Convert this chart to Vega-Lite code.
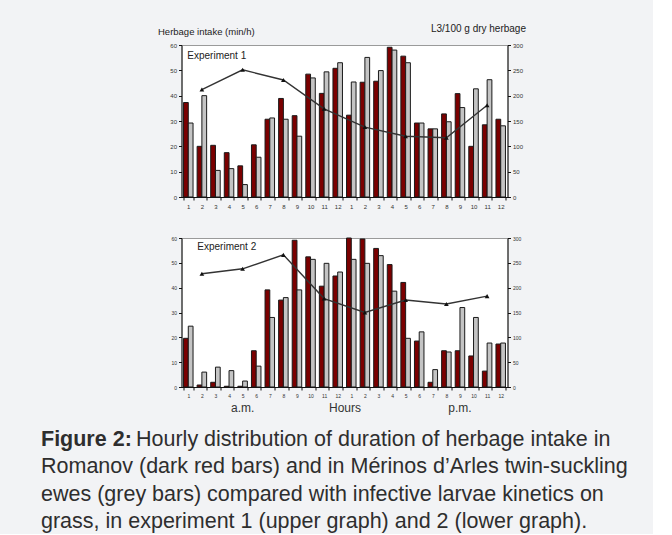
{
  "$schema": "https://vega.github.io/schema/vega-lite/v6.json",
  "background": "#f2f3f5",
  "padding": {"left": 41, "top": 22, "right": 5, "bottom": 0},
  "config": {
    "font": "Liberation Sans",
    "view": {"stroke": null},
    "axis": {"labelFontSize": 6, "labelColor": "#333", "domainColor": "#111", "tickColor": "#111", "tickSize": 3, "grid": false, "labelPadding": 2, "labelOverlap": false, "titleFontWeight": "normal", "titleColor": "#222"}
  },
  "datasets": {
    "intake": [
      {"exp": 1, "slot": 1, "breed": "Romanov", "min": 37.3}, {"exp": 1, "slot": 1, "breed": "Mérinos d’Arles", "min": 29.2},
      {"exp": 1, "slot": 2, "breed": "Romanov", "min": 20.0}, {"exp": 1, "slot": 2, "breed": "Mérinos d’Arles", "min": 40.0},
      {"exp": 1, "slot": 3, "breed": "Romanov", "min": 20.4}, {"exp": 1, "slot": 3, "breed": "Mérinos d’Arles", "min": 10.5},
      {"exp": 1, "slot": 4, "breed": "Romanov", "min": 17.5}, {"exp": 1, "slot": 4, "breed": "Mérinos d’Arles", "min": 11.2},
      {"exp": 1, "slot": 5, "breed": "Romanov", "min": 12.3}, {"exp": 1, "slot": 5, "breed": "Mérinos d’Arles", "min": 4.9},
      {"exp": 1, "slot": 6, "breed": "Romanov", "min": 20.6}, {"exp": 1, "slot": 6, "breed": "Mérinos d’Arles", "min": 15.7},
      {"exp": 1, "slot": 7, "breed": "Romanov", "min": 30.7}, {"exp": 1, "slot": 7, "breed": "Mérinos d’Arles", "min": 31.2},
      {"exp": 1, "slot": 8, "breed": "Romanov", "min": 38.9}, {"exp": 1, "slot": 8, "breed": "Mérinos d’Arles", "min": 30.7},
      {"exp": 1, "slot": 9, "breed": "Romanov", "min": 32.1}, {"exp": 1, "slot": 9, "breed": "Mérinos d’Arles", "min": 24.0},
      {"exp": 1, "slot": 10, "breed": "Romanov", "min": 48.5}, {"exp": 1, "slot": 10, "breed": "Mérinos d’Arles", "min": 47.0},
      {"exp": 1, "slot": 11, "breed": "Romanov", "min": 40.9}, {"exp": 1, "slot": 11, "breed": "Mérinos d’Arles", "min": 49.4},
      {"exp": 1, "slot": 12, "breed": "Romanov", "min": 50.8}, {"exp": 1, "slot": 12, "breed": "Mérinos d’Arles", "min": 53.0},
      {"exp": 1, "slot": 13, "breed": "Romanov", "min": 32.3}, {"exp": 1, "slot": 13, "breed": "Mérinos d’Arles", "min": 45.4},
      {"exp": 1, "slot": 14, "breed": "Romanov", "min": 45.3}, {"exp": 1, "slot": 14, "breed": "Mérinos d’Arles", "min": 55.1},
      {"exp": 1, "slot": 15, "breed": "Romanov", "min": 45.7}, {"exp": 1, "slot": 15, "breed": "Mérinos d’Arles", "min": 49.9},
      {"exp": 1, "slot": 16, "breed": "Romanov", "min": 59.1}, {"exp": 1, "slot": 16, "breed": "Mérinos d’Arles", "min": 58.0},
      {"exp": 1, "slot": 17, "breed": "Romanov", "min": 55.6}, {"exp": 1, "slot": 17, "breed": "Mérinos d’Arles", "min": 53.0},
      {"exp": 1, "slot": 18, "breed": "Romanov", "min": 29.2}, {"exp": 1, "slot": 18, "breed": "Mérinos d’Arles", "min": 29.2},
      {"exp": 1, "slot": 19, "breed": "Romanov", "min": 26.9}, {"exp": 1, "slot": 19, "breed": "Mérinos d’Arles", "min": 26.9},
      {"exp": 1, "slot": 20, "breed": "Romanov", "min": 32.8}, {"exp": 1, "slot": 20, "breed": "Mérinos d’Arles", "min": 29.7},
      {"exp": 1, "slot": 21, "breed": "Romanov", "min": 40.8}, {"exp": 1, "slot": 21, "breed": "Mérinos d’Arles", "min": 35.3},
      {"exp": 1, "slot": 22, "breed": "Romanov", "min": 20.0}, {"exp": 1, "slot": 22, "breed": "Mérinos d’Arles", "min": 42.7},
      {"exp": 1, "slot": 23, "breed": "Romanov", "min": 28.5}, {"exp": 1, "slot": 23, "breed": "Mérinos d’Arles", "min": 46.3},
      {"exp": 1, "slot": 24, "breed": "Romanov", "min": 30.7}, {"exp": 1, "slot": 24, "breed": "Mérinos d’Arles", "min": 28.1},
      {"exp": 2, "slot": 1, "breed": "Romanov", "min": 19.6}, {"exp": 2, "slot": 1, "breed": "Mérinos d’Arles", "min": 24.5},
      {"exp": 2, "slot": 2, "breed": "Romanov", "min": 0.8}, {"exp": 2, "slot": 2, "breed": "Mérinos d’Arles", "min": 6.0},
      {"exp": 2, "slot": 3, "breed": "Romanov", "min": 1.9}, {"exp": 2, "slot": 3, "breed": "Mérinos d’Arles", "min": 8.0},
      {"exp": 2, "slot": 4, "breed": "Romanov", "min": 0.3}, {"exp": 2, "slot": 4, "breed": "Mérinos d’Arles", "min": 6.6},
      {"exp": 2, "slot": 5, "breed": "Romanov", "min": 0.3}, {"exp": 2, "slot": 5, "breed": "Mérinos d’Arles", "min": 2.4},
      {"exp": 2, "slot": 6, "breed": "Romanov", "min": 14.6}, {"exp": 2, "slot": 6, "breed": "Mérinos d’Arles", "min": 8.4},
      {"exp": 2, "slot": 7, "breed": "Romanov", "min": 39.1}, {"exp": 2, "slot": 7, "breed": "Mérinos d’Arles", "min": 28.0},
      {"exp": 2, "slot": 8, "breed": "Romanov", "min": 35.0}, {"exp": 2, "slot": 8, "breed": "Mérinos d’Arles", "min": 36.0},
      {"exp": 2, "slot": 9, "breed": "Romanov", "min": 59.1}, {"exp": 2, "slot": 9, "breed": "Mérinos d’Arles", "min": 39.1},
      {"exp": 2, "slot": 10, "breed": "Romanov", "min": 52.4}, {"exp": 2, "slot": 10, "breed": "Mérinos d’Arles", "min": 51.4},
      {"exp": 2, "slot": 11, "breed": "Romanov", "min": 40.6}, {"exp": 2, "slot": 11, "breed": "Mérinos d’Arles", "min": 49.8},
      {"exp": 2, "slot": 12, "breed": "Romanov", "min": 44.7}, {"exp": 2, "slot": 12, "breed": "Mérinos d’Arles", "min": 46.3},
      {"exp": 2, "slot": 13, "breed": "Romanov", "min": 60.0}, {"exp": 2, "slot": 13, "breed": "Mérinos d’Arles", "min": 51.4},
      {"exp": 2, "slot": 14, "breed": "Romanov", "min": 59.6}, {"exp": 2, "slot": 14, "breed": "Mérinos d’Arles", "min": 49.8},
      {"exp": 2, "slot": 15, "breed": "Romanov", "min": 55.8}, {"exp": 2, "slot": 15, "breed": "Mérinos d’Arles", "min": 52.9},
      {"exp": 2, "slot": 16, "breed": "Romanov", "min": 49.3}, {"exp": 2, "slot": 16, "breed": "Mérinos d’Arles", "min": 38.6},
      {"exp": 2, "slot": 17, "breed": "Romanov", "min": 42.1}, {"exp": 2, "slot": 17, "breed": "Mérinos d’Arles", "min": 19.6},
      {"exp": 2, "slot": 18, "breed": "Romanov", "min": 18.5}, {"exp": 2, "slot": 18, "breed": "Mérinos d’Arles", "min": 22.2},
      {"exp": 2, "slot": 19, "breed": "Romanov", "min": 1.9}, {"exp": 2, "slot": 19, "breed": "Mérinos d’Arles", "min": 7.0},
      {"exp": 2, "slot": 20, "breed": "Romanov", "min": 14.6}, {"exp": 2, "slot": 20, "breed": "Mérinos d’Arles", "min": 14.1},
      {"exp": 2, "slot": 21, "breed": "Romanov", "min": 14.6}, {"exp": 2, "slot": 21, "breed": "Mérinos d’Arles", "min": 32.0},
      {"exp": 2, "slot": 22, "breed": "Romanov", "min": 12.5}, {"exp": 2, "slot": 22, "breed": "Mérinos d’Arles", "min": 28.0},
      {"exp": 2, "slot": 23, "breed": "Romanov", "min": 6.4}, {"exp": 2, "slot": 23, "breed": "Mérinos d’Arles", "min": 17.7},
      {"exp": 2, "slot": 24, "breed": "Romanov", "min": 17.3}, {"exp": 2, "slot": 24, "breed": "Mérinos d’Arles", "min": 17.7}
    ],
    "larvae": [
      {"exp": 1, "slot": 2, "L3": 212}, {"exp": 1, "slot": 5, "L3": 251}, {"exp": 1, "slot": 8, "L3": 231},
      {"exp": 1, "slot": 11, "L3": 174}, {"exp": 1, "slot": 14, "L3": 138}, {"exp": 1, "slot": 17, "L3": 120},
      {"exp": 1, "slot": 20, "L3": 117}, {"exp": 1, "slot": 23, "L3": 181},
      {"exp": 2, "slot": 2, "L3": 228}, {"exp": 2, "slot": 5, "L3": 238}, {"exp": 2, "slot": 8, "L3": 266},
      {"exp": 2, "slot": 11, "L3": 178}, {"exp": 2, "slot": 14, "L3": 150}, {"exp": 2, "slot": 17, "L3": 175},
      {"exp": 2, "slot": 20, "L3": 167}, {"exp": 2, "slot": 23, "L3": 183}
    ],
    "caption": [
      {"line": 1, "part": "label", "text": "Figure 2:"},
      {"line": 1, "part": "first", "text": "Hourly distribution of duration of herbage intake in"},
      {"line": 2, "part": "body", "text": "Romanov (dark red bars) and in Mérinos d’Arles twin-suckling"},
      {"line": 3, "part": "body", "text": "ewes (grey bars) compared with infective larvae kinetics on"},
      {"line": 4, "part": "body", "text": "grass, in experiment 1 (upper graph) and 2 (lower graph)."}
    ]
  },
  "bounds": "flush",
  "center": true,
  "spacing": 41,
  "vconcat": [
    {
      "width": 326,
      "height": 152,
      "view": {"fill": "white", "stroke": "#9a9a9a"},
      "resolve": {"scale": {"y": "independent"}},
      "layer": [
        {
          "layer": [
            {
              "data": {"name": "intake"},
              "transform": [{"filter": "datum.exp == 1"}],
              "mark": {"type": "bar", "stroke": "#1a1a1a", "strokeWidth": 1},
              "encoding": {
                "x": {"field": "slot", "type": "ordinal",
                      "scale": {"domain": [1,2,3,4,5,6,7,8,9,10,11,12,13,14,15,16,17,18,19,20,21,22,23,24], "paddingInner": 0.3, "paddingOuter": 0.15},
                      "axis": {"title": null, "labelAngle": 0, "labelExpr": "datum.value > 12 ? datum.value - 12 : datum.value", "tickBand": "extent", "labelPadding": 3}},
                "xOffset": {"field": "breed", "type": "nominal", "sort": ["Romanov", "Mérinos d’Arles"]},
                "y": {"field": "min", "type": "quantitative", "scale": {"domain": [0, 60]},
                      "axis": {"values": [0,10,20,30,40,50,60], "title": "Herbage intake (min/h)", "titleAngle": 0, "titleAlign": "left", "titleBaseline": "middle", "titleX": -24, "titleY": -14, "titleFontSize": 9.5}},
                "color": {"field": "breed", "type": "nominal", "scale": {"domain": ["Romanov", "Mérinos d’Arles"], "range": ["#7b0000", "#c4c4c4"]}, "legend": null}
              }
            },
            {
              "data": {"values": [{"label": "Experiment 1"}]},
              "mark": {"type": "text", "align": "left", "baseline": "middle", "fontSize": 10, "color": "#222", "dx": -1},
              "encoding": {
                "x": {"datum": 1, "type": "ordinal"},
                "y": {"datum": 55.7, "type": "quantitative",
                      "axis": {"values": [0,10,20,30,40,50,60], "title": "Herbage intake (min/h)", "titleAngle": 0, "titleAlign": "left", "titleBaseline": "middle", "titleX": -24, "titleY": -14, "titleFontSize": 9.5}},
                "text": {"field": "label"}
              }
            }
          ]
        },
        {
          "data": {"name": "larvae"},
          "transform": [{"filter": "datum.exp == 1"}],
          "encoding": {
            "x": {"field": "slot", "type": "ordinal"},
            "y": {"field": "L3", "type": "quantitative", "scale": {"domain": [0, 300]},
                  "axis": {"orient": "right", "values": [0,50,100,150,200,250,300], "title": "L3/100 g dry herbage", "titleAngle": 0, "titleAlign": "right", "titleBaseline": "middle", "titleX": 18, "titleY": -17, "titleFontSize": 10}}
          },
          "layer": [
            {"mark": {"type": "line", "color": "#333", "strokeWidth": 1.4}},
            {"mark": {"type": "point", "shape": "triangle-up", "filled": true, "color": "#111", "size": 22, "opacity": 1}}
          ]
        }
      ]
    },
    {
      "width": 326,
      "height": 149,
      "view": {"fill": "white", "stroke": "#9a9a9a"},
      "resolve": {"scale": {"y": "independent"}},
      "layer": [
        {
          "layer": [
            {
              "data": {"name": "intake"},
              "transform": [{"filter": "datum.exp == 2"}],
              "mark": {"type": "bar", "stroke": "#1a1a1a", "strokeWidth": 1},
              "encoding": {
                "x": {"field": "slot", "type": "ordinal",
                      "scale": {"domain": [1,2,3,4,5,6,7,8,9,10,11,12,13,14,15,16,17,18,19,20,21,22,23,24], "paddingInner": 0.3, "paddingOuter": 0.15},
                      "axis": {"title": "Hours", "titleFontSize": 12, "titleColor": "#333", "titlePadding": 4, "labelAngle": 0, "labelFontSize": 5, "labelExpr": "datum.value > 12 ? datum.value - 12 : datum.value", "tickBand": "extent", "labelPadding": 3}},
                "xOffset": {"field": "breed", "type": "nominal", "sort": ["Romanov", "Mérinos d’Arles"]},
                "y": {"field": "min", "type": "quantitative", "scale": {"domain": [0, 60]},
                      "axis": {"values": [0,10,20,30,40,50,60], "title": null, "labelFontSize": 5}},
                "color": {"field": "breed", "type": "nominal", "scale": {"domain": ["Romanov", "Mérinos d’Arles"], "range": ["#7b0000", "#c4c4c4"]}, "legend": null}
              }
            },
            {
              "data": {"values": [{"label": "Experiment 2"}]},
              "mark": {"type": "text", "align": "left", "baseline": "middle", "fontSize": 10, "color": "#222", "dx": 9},
              "encoding": {
                "x": {"datum": 1, "type": "ordinal"},
                "y": {"datum": 56.4, "type": "quantitative", "axis": {"values": [0,10,20,30,40,50,60], "title": null, "labelFontSize": 5}},
                "text": {"field": "label"}
              }
            },
            {
              "data": {"values": [{"label": "a.m.", "slot": 5}, {"label": "p.m.", "slot": 21}]},
              "mark": {"type": "text", "align": "center", "baseline": "middle", "fontSize": 12, "color": "#333"},
              "encoding": {
                "x": {"field": "slot", "type": "ordinal"},
                "y": {"datum": -8.5, "type": "quantitative", "axis": {"values": [0,10,20,30,40,50,60], "title": null, "labelFontSize": 5}},
                "text": {"field": "label"}
              }
            }
          ]
        },
        {
          "data": {"name": "larvae"},
          "transform": [{"filter": "datum.exp == 2"}],
          "encoding": {
            "x": {"field": "slot", "type": "ordinal"},
            "y": {"field": "L3", "type": "quantitative", "scale": {"domain": [0, 300]},
                  "axis": {"orient": "right", "values": [0,50,100,150,200,250,300], "title": null, "labelFontSize": 5}}
          },
          "layer": [
            {"mark": {"type": "line", "color": "#333", "strokeWidth": 1.4}},
            {"mark": {"type": "point", "shape": "triangle-up", "filled": true, "color": "#111", "size": 22, "opacity": 1}}
          ]
        }
      ]
    },
    {
      "width": 607,
      "height": 106,
      "data": {"name": "caption"},
      "encoding": {
        "y": {"field": "line", "type": "ordinal", "axis": null, "scale": {"type": "point", "padding": 0.45}},
        "x": {"datum": 0, "type": "quantitative", "scale": {"domain": [0, 1]}, "axis": null}
      },
      "layer": [
        {
          "transform": [{"filter": "datum.part == 'label'"}],
          "mark": {"type": "text", "align": "left", "baseline": "middle", "fontSize": 21.5, "fontWeight": "bold", "color": "#2e2e2e"},
          "encoding": {"text": {"field": "text"}}
        },
        {
          "transform": [{"filter": "datum.part == 'first'"}],
          "mark": {"type": "text", "align": "left", "baseline": "middle", "fontSize": 21.5, "color": "#2e2e2e", "dx": 95},
          "encoding": {"text": {"field": "text"}}
        },
        {
          "transform": [{"filter": "datum.part == 'body'"}],
          "mark": {"type": "text", "align": "left", "baseline": "middle", "fontSize": 21.5, "color": "#2e2e2e"},
          "encoding": {"text": {"field": "text"}}
        }
      ]
    }
  ]
}
